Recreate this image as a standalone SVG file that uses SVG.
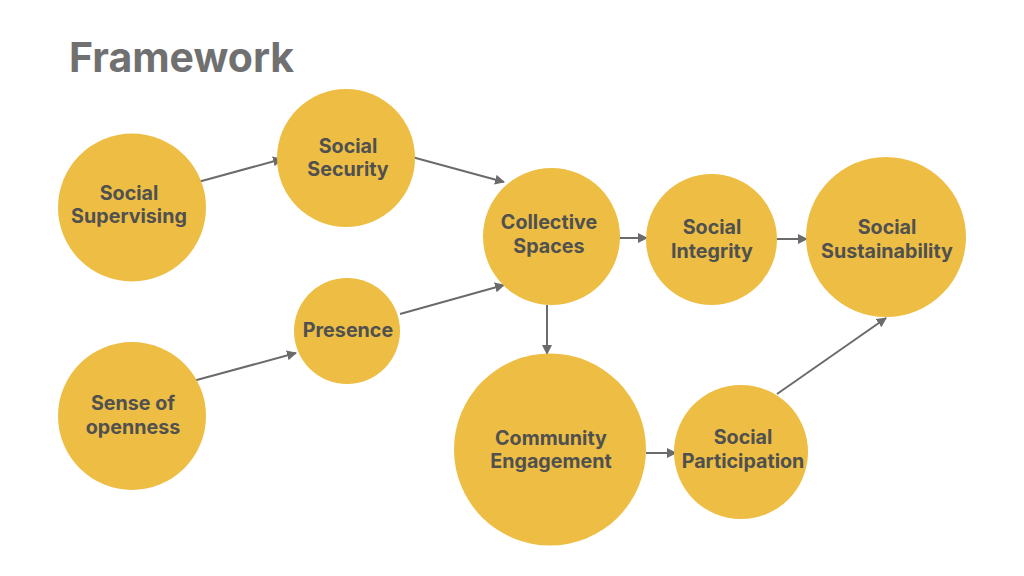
<svg xmlns="http://www.w3.org/2000/svg" width="1024" height="576" viewBox="0 0 1024 576">
<defs>
<style>
.node{fill:#EDBE43;}
.lbl{font-family:Inter,"Noto Sans","Liberation Sans",sans-serif;font-weight:700;font-size:19.7px;fill:#505050;text-anchor:middle;}
.title{font-family:Inter,"Noto Sans","Liberation Sans",sans-serif;font-weight:700;font-size:41px;fill:#707070;}
.edge{stroke:#6b6b6b;stroke-width:2;fill:none;marker-end:url(#ah);}
</style>
<marker id="ah" viewBox="0 0 10 10" refX="9" refY="5" markerWidth="5" markerHeight="5" orient="auto" markerUnits="strokeWidth">
<path d="M0,0 L10,5 L0,10 Z" fill="#6b6b6b"/>
</marker>
</defs>
<rect width="1024" height="576" fill="#ffffff"/>
<text class="title" x="69" y="72">Framework</text>
<g id="connectors">
<line class="edge" x1="198" y1="182" x2="282" y2="159"/>
<line class="edge" x1="412" y1="157" x2="504" y2="182"/>
<line class="edge" x1="193" y1="381" x2="296" y2="353"/>
<line class="edge" x1="400" y1="314" x2="504" y2="285"/>
<line class="edge" x1="617" y1="238" x2="647" y2="238"/>
<line class="edge" x1="777" y1="239" x2="807" y2="239"/>
<line class="edge" x1="547" y1="305" x2="547" y2="354"/>
<line class="edge" x1="646" y1="453" x2="676" y2="453"/>
<line class="edge" x1="777" y1="394" x2="886" y2="318"/>
</g>
<g id="social-supervising">
<circle class="node" cx="132" cy="207.5" r="74"/>
<text class="lbl" x="129" y="200">Social</text>
<text class="lbl" x="129" y="223">Supervising</text>
</g>
<g id="social-security">
<circle class="node" cx="346" cy="158" r="69"/>
<text class="lbl" x="348" y="153">Social</text>
<text class="lbl" x="348" y="176">Security</text>
</g>
<g id="presence">
<circle class="node" cx="347" cy="331" r="53"/>
<text class="lbl" x="348" y="337">Presence</text>
</g>
<g id="sense-of-openness">
<circle class="node" cx="132" cy="416" r="74"/>
<text class="lbl" x="133" y="410">Sense of</text>
<text class="lbl" x="133" y="434">openness</text>
</g>
<g id="collective-spaces">
<circle class="node" cx="551.5" cy="236.5" r="68.5"/>
<text class="lbl" x="549" y="229">Collective</text>
<text class="lbl" x="549" y="253">Spaces</text>
</g>
<g id="social-integrity">
<circle class="node" cx="711.5" cy="239.5" r="65.5"/>
<text class="lbl" x="712" y="234">Social</text>
<text class="lbl" x="712" y="258">Integrity</text>
</g>
<g id="social-sustainability">
<circle class="node" cx="886" cy="237" r="80"/>
<text class="lbl" x="887" y="234">Social</text>
<text class="lbl" x="887" y="258">Sustainability</text>
</g>
<g id="community-engagement">
<circle class="node" cx="550" cy="449.5" r="96"/>
<text class="lbl" x="551" y="445">Community</text>
<text class="lbl" x="551" y="468">Engagement</text>
</g>
<g id="social-participation">
<circle class="node" cx="741" cy="452" r="67"/>
<text class="lbl" x="743" y="444">Social</text>
<text class="lbl" x="743" y="468">Participation</text>
</g>
</svg>
